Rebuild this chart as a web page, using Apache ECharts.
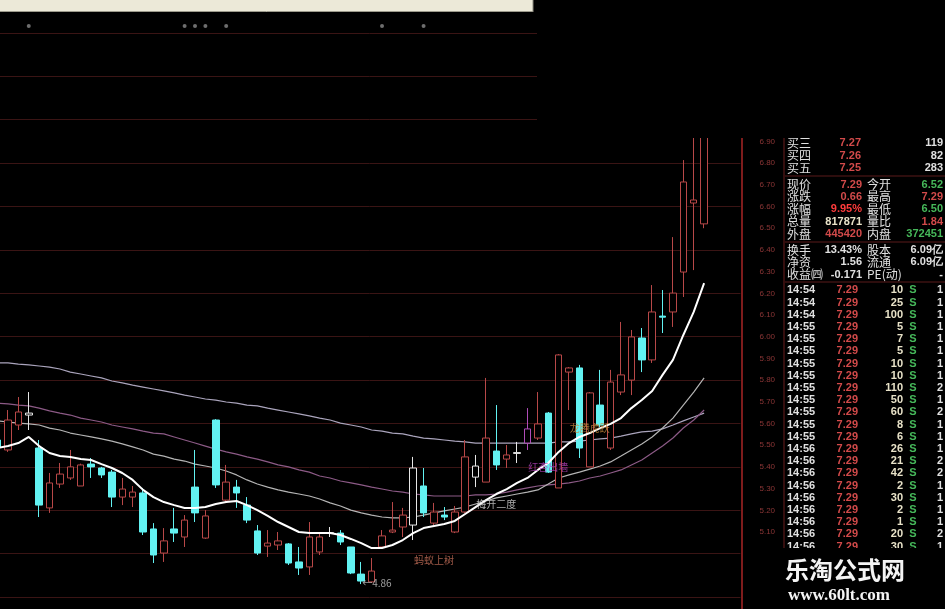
<!DOCTYPE html>
<html><head><meta charset="utf-8">
<script src="https://cdn.jsdelivr.net/npm/echarts@6/dist/echarts.min.js"></script>
<style>html,body{margin:0;padding:0;background:#000;}#c{width:945px;height:609px;}</style>
</head><body><div id="c"></div>
<script>
// ---- data ----
// [open, close, low, high]
const candles = [
 [5.524,5.492,5.48,5.53],[5.478,5.616,5.469,5.662],[5.593,5.653,5.570,5.722],[5.639,5.648,5.570,5.745],
 [5.487,5.224,5.169,5.524],[5.211,5.326,5.188,5.372],[5.321,5.367,5.303,5.418],[5.349,5.400,5.340,5.478],
 [5.312,5.409,5.312,5.415],[5.413,5.400,5.349,5.441],[5.395,5.363,5.349,5.400],[5.376,5.261,5.215,5.386],
 [5.261,5.298,5.224,5.349],[5.261,5.284,5.215,5.312],[5.280,5.100,5.086,5.303],[5.114,4.994,4.957,5.141],
 [5.003,5.059,4.962,5.118],[5.114,5.095,5.054,5.211],[5.077,5.155,5.031,5.178],[5.307,5.188,5.146,5.478],
 [5.072,5.174,5.068,5.201],[5.616,5.317,5.303,5.620],[5.247,5.330,5.238,5.409],[5.307,5.280,5.211,5.340],
 [5.224,5.155,5.141,5.261],[5.105,5.003,4.994,5.132],[5.035,5.049,4.985,5.109],[5.040,5.059,5.017,5.100],
 [5.045,4.957,4.948,5.049],[4.962,4.934,4.902,5.031],[4.939,5.077,4.902,5.146],[5.008,5.077,4.994,5.095],
 [5.097,5.093,5.077,5.123],[5.095,5.054,5.040,5.109],[5.031,4.911,4.906,5.031],[4.906,4.874,4.860,4.962],
 [4.870,4.920,4.866,4.980],[5.031,5.082,5.026,5.109],[5.100,5.109,5.095,5.238],[5.123,5.178,5.077,5.211],
 [5.132,5.395,5.063,5.446],[5.312,5.188,5.169,5.395],[5.141,5.192,5.132,5.234],[5.178,5.169,5.155,5.215],
 [5.100,5.192,5.095,5.220],[5.192,5.446,5.188,5.524],[5.353,5.404,5.307,5.455],[5.330,5.533,5.330,5.810],
 [5.473,5.409,5.386,5.685],[5.436,5.455,5.395,5.501],[5.462,5.466,5.418,5.515],[5.510,5.575,5.478,5.671],
 [5.533,5.598,5.524,5.745],[5.648,5.376,5.372,5.653],[5.303,5.916,5.303,5.920],[5.837,5.856,5.662,5.860],
 [5.856,5.487,5.441,5.870],[5.400,5.741,5.400,5.745],[5.685,5.593,5.584,5.847],[5.487,5.791,5.478,5.847],
 [5.745,5.824,5.731,6.068],[5.800,5.999,5.731,6.031],[5.994,5.893,5.837,6.040],[5.893,6.114,5.879,6.238],
 [6.095,6.090,6.017,6.215],[6.114,6.201,6.045,6.459],[6.298,6.713,6.183,6.814],[6.616,6.630,6.307,6.950],
 [6.520,7.290,6.500,7.290]
];
const maWhite = [5.487,5.496,5.510,5.538,5.496,5.464,5.450,5.446,5.436,5.432,
 5.413,5.395,5.372,5.340,5.294,5.261,5.238,5.224,5.211,5.211,
 5.215,5.229,5.238,5.243,5.224,5.201,5.174,5.146,5.123,5.100,
 5.095,5.095,5.095,5.086,5.068,5.049,5.026,5.026,5.040,5.063,
 5.095,5.118,5.128,5.137,5.151,5.183,5.215,5.247,5.275,5.298,
 5.326,5.349,5.386,5.418,5.469,5.510,5.538,5.556,5.579,5.598,
 5.625,5.671,5.708,5.750,5.824,5.893,6.008,6.114,6.247];
const maGray = [5.879,5.879,5.874,5.870,5.865,5.860,5.851,5.837,5.828,5.819,
 5.810,5.796,5.787,5.777,5.768,5.759,5.750,5.741,5.731,5.722,
 5.713,5.708,5.699,5.694,5.685,5.681,5.671,5.662,5.653,5.644,
 5.635,5.625,5.616,5.602,5.593,5.584,5.570,5.565,5.556,5.552,
 5.542,5.533,5.529,5.524,5.519,5.515,5.510,5.510,5.510,5.510,
 5.510,5.510,5.510,5.510,5.515,5.515,5.519,5.524,5.529,5.533,
 5.542,5.552,5.561,5.565,5.575,5.593,5.612,5.630,5.648];
const maPurple = [5.694,5.690,5.685,5.681,5.671,5.658,5.648,5.639,5.625,5.616,
 5.607,5.593,5.584,5.575,5.565,5.556,5.552,5.538,5.524,5.510,
 5.496,5.482,5.469,5.459,5.446,5.436,5.423,5.409,5.400,5.386,
 5.376,5.358,5.349,5.335,5.326,5.317,5.307,5.298,5.289,5.284,
 5.275,5.271,5.266,5.266,5.266,5.266,5.271,5.271,5.275,5.284,
 5.294,5.303,5.312,5.317,5.321,5.326,5.335,5.349,5.358,5.372,
 5.386,5.409,5.432,5.464,5.496,5.533,5.579,5.616,5.662];
const maSilver = [5.612,5.607,5.602,5.598,5.593,5.579,5.570,5.556,5.547,5.538,
 5.529,5.519,5.506,5.492,5.478,5.459,5.450,5.436,5.427,5.413,
 5.404,5.395,5.381,5.363,5.340,5.321,5.307,5.294,5.284,5.275,
 5.266,5.252,5.234,5.220,5.201,5.188,5.178,5.169,5.165,5.165,
 5.169,5.178,5.188,5.197,5.206,5.215,5.229,5.243,5.257,5.266,
 5.275,5.284,5.294,5.321,5.349,5.363,5.376,5.390,5.404,5.423,
 5.450,5.478,5.506,5.538,5.579,5.625,5.685,5.745,5.810];
// indicator dots of the panel above (candle indices)
const dotIdx = [3,18,19,20,22,37,41];
const dotLevel = 7.432;
// chart annotations
const noteIdx = [42,35,48,53,57];
const notePrice = [4.971,4.865,5.229,5.400,5.579];
const noteText = ['蚂蚁上树','←4.86','梅开二度','红杏出墙','龙腾虎跃'];
// quote panel
const bidLabels = ['买三','买四','买五'];
const bidPrices = ['7.27','7.26','7.25'];
const bidVols = ['119','82','283'];
const statLabelsL = ['现价','涨跌','涨幅','总量','外盘'];
const statValuesL = ['7.29','0.66','9.95%','817871','445420'];
const statLabelsR = ['今开','最高','最低','量比','内盘'];
const statValuesR = ['6.52','7.29','6.50','1.84','372451'];
const infoLabelsL = ['换手','净资','收益㈣'];
const infoValuesL = ['13.43%','1.56','-0.171'];
const infoLabelsR = ['股本','流通','PE(动)'];
const infoValuesR = ['6.09亿','6.09亿','-'];
const tradeTimes = ['14:54','14:54','14:54','14:55','14:55','14:55','14:55','14:55','14:55','14:55','14:55','14:55','14:55','14:56','14:56','14:56','14:56','14:56','14:56','14:56','14:56','14:56'];
const tradePrices = ['7.29','7.29','7.29','7.29','7.29','7.29','7.29','7.29','7.29','7.29','7.29','7.29','7.29','7.29','7.29','7.29','7.29','7.29','7.29','7.29','7.29','7.29'];
const tradeVols = ['10','25','100','5','7','5','10','10','110','50','60','8','6','26','21','42','2','30','2','1','20','30'];
const tradeSides = ['S','S','S','S','S','S','S','S','S','S','S','S','S','S','S','S','S','S','S','S','S','S'];
const tradeCounts = ['1','1','1','1','1','1','1','1','2','1','2','1','1','1','2','2','1','1','1','1','2','1'];

// ---- layout / styles ----
const RED = '#d24a4a', GREEN = '#46b85a', WHITE = '#e0e0e0', YEL = '#e8e2c8';
const statColorsL = [RED, RED, '#ff3c3c', YEL, RED];
const statColorsR = [GREEN, RED, GREEN, RED, GREEN];
const noteColor = ['#c8705a','#c8c8c8','#d8d8d8','#b040b8','#c88a3c'];
const whiteIdx = [3,32,40,46,50];
const purpleIdx = [51];

const N = candles.length, NCAT = N + 3;
const categories = [];
for (let i = 0; i < NCAT; i++) categories.push('d' + i);
const step = 10.39, gridLeft = -7.6, gridWidth = NCAT * step;
const pxPerUnit = 217, refPrice = 5.10, refY = 532;
const yOf = p => refY - (p - refPrice) * pxPerUnit;
const topB = 140;
const yMaxB = refPrice + (refY - topB) / pxPerUnit;

const candleData = candles.map((c, i) => {
  if (whiteIdx.includes(i)) return {value: c, itemStyle: {color:'#000', color0:'#000', borderColor:'#e6e6e6', borderColor0:'#e6e6e6'}};
  if (purpleIdx.includes(i)) return {value: c, itemStyle: {color:'#000', color0:'#000', borderColor:'#b04cb8', borderColor0:'#b04cb8'}};
  return c;
});

const g = [];
function txt(s, x, y, fill, size, family, weight, align) {
  g.push({type:'text', z:40, style:{text:s, x:x, y:y, fill:fill, fontSize:size, fontFamily:family, fontWeight:weight||'normal', align:align||'left', verticalAlign:'middle'}});
}
function line(x1,y1,x2,y2,stroke,w,z) {
  g.push({type:'line', z:z||45, shape:{x1,y1,x2,y2}, style:{stroke, lineWidth:w||1}});
}
function rect(x,y,w,h,fill,z) {
  g.push({type:'rect', z:z||50, shape:{x,y,width:w,height:h}, style:{fill}});
}
const CJK = 'Noto Sans CJK SC', NUM = 'Liberation Sans';
// top window bar
rect(0,0,533,12,'#ece9d8',60);
line(0,11.5,533,11.5,'#9c9a8c',1,61);
line(533,0,533,12,'#8a887c',1,61);
// cover above the quote panel
rect(537,12,408,126,'#000',50);
// panel separators
line(742,138,742,609,'#a82626',1.5,45);
line(784,138,784,609,'#6a1c1c',1,45);
[176,242,282].forEach(y => line(785,y,945,y,'#5a1a1a',1,45));
// bids
bidLabels.forEach((s,k) => {
  const y = 143 + k*12.5;
  txt(s,787,y,WHITE,12,CJK);
  txt(bidPrices[k],861,y,RED,11,NUM,'bold','right');
  txt(bidVols[k],943,y,WHITE,11,NUM,'bold','right');
});
statLabelsL.forEach((s,k) => {
  const y = 184.5 + k*12.4;
  txt(s,787,y,WHITE,12,CJK);
  txt(statValuesL[k],862,y,statColorsL[k],11,NUM,'bold','right');
  txt(statLabelsR[k],867,y,WHITE,12,CJK);
  txt(statValuesR[k],943,y,statColorsR[k],11,NUM,'bold','right');
});
infoLabelsL.forEach((s,k) => {
  const y = 250 + k*12.4;
  txt(s,787,y,WHITE,12,CJK);
  txt(infoValuesL[k],862,y,WHITE,11,NUM,'bold','right');
  txt(infoLabelsR[k],867,y,WHITE,12,CJK);
  txt(infoValuesR[k],943,y,WHITE,11,NUM,'bold','right');
});
tradeTimes.forEach((s,k) => {
  const y = 290.3 + k*12.2;
  txt(s,787,y,WHITE,11,NUM,'bold');
  txt(tradePrices[k],858,y,RED,11,NUM,'bold','right');
  txt(tradeVols[k],903,y,YEL,11,NUM,'bold','right');
  txt(tradeSides[k],913,y,GREEN,11,NUM,'bold','center');
  txt(tradeCounts[k],943,y,WHITE,11,NUM,'bold','right');
});
// watermark
rect(744,548,201,61,'#000',70);
g.push({type:'text', z:71, style:{text:'乐淘公式网', x:845, y:570, fill:'#f4f4f4', fontSize:24, fontFamily:CJK, fontWeight:'bold', align:'center', verticalAlign:'middle'}});
g.push({type:'text', z:71, style:{text:'www.60lt.com', x:839, y:596, fill:'#f4f4f4', fontSize:17, fontFamily:'Liberation Serif', fontWeight:'bold', align:'center', verticalAlign:'middle'}});

const option = {
  backgroundColor: '#000',
  animation: false,
  grid: [
    {left: gridLeft, top: yOf(7.6), width: gridWidth, height: 3.0 * pxPerUnit, show: false, containLabel: false, outerBoundsMode: 'none'},
    {left: gridLeft, top: topB, width: gridWidth, height: yOf(4.6) - topB, show: false, containLabel: false, outerBoundsMode: 'none'}
  ],
  xAxis: [
    {type:'category', gridIndex:0, data:categories, boundaryGap:true, show:false},
    {type:'category', gridIndex:1, data:categories, boundaryGap:true, show:false}
  ],
  yAxis: [
    {type:'value', gridIndex:0, min:4.6, max:7.6, interval:0.2, axisLine:{show:false}, axisTick:{show:false}, axisLabel:{show:false},
     splitLine:{show:true, lineStyle:{color:'#3a1414', width:1}}},
    {type:'value', gridIndex:1, position:'right', min:4.6, max:yMaxB, interval:0.1, axisLine:{show:false}, axisTick:{show:false},
     splitLine:{show:false},
     axisLabel:{show:true, margin:19, color:'#8c3636', fontSize:8, fontFamily:NUM,
       formatter: v => (v > 5.05 && v < 6.95) ? v.toFixed(2) : ''}}
  ],
  series: [
    {type:'scatter', xAxisIndex:0, yAxisIndex:0, symbol:'circle', symbolSize:4, silent:true,
     itemStyle:{color:'#8a8a8a'}, data: dotIdx.map(i => [i, dotLevel])},
    {type:'line', xAxisIndex:1, yAxisIndex:1, data:maGray, symbol:'none', silent:true, lineStyle:{color:'#aaa4bc', width:1.2}, z:3},
    {type:'line', xAxisIndex:1, yAxisIndex:1, data:maPurple, symbol:'none', silent:true, lineStyle:{color:'#8c5a86', width:1.2}, z:3},
    {type:'line', xAxisIndex:1, yAxisIndex:1, data:maSilver, symbol:'none', silent:true, lineStyle:{color:'#b4b4b4', width:1.2}, z:3},
    {type:'candlestick', xAxisIndex:1, yAxisIndex:1, barWidth:7, clip:true, silent:true, data:candleData,
     itemStyle:{color:'#000', color0:'#62f2f2', borderColor:'#b84848', borderColor0:'#62f2f2', borderWidth:1}, z:4},
    {type:'line', xAxisIndex:1, yAxisIndex:1, data:maWhite, symbol:'none', silent:true, lineStyle:{color:'#ffffff', width:2}, z:5},
    {type:'scatter', xAxisIndex:1, yAxisIndex:1, symbolSize:0, silent:true, z:6,
     data: noteIdx.map((ix,k) => ({value:[ix, notePrice[k]],
       label:{show:true, formatter: noteText[k], color: noteColor[k], fontSize:10, fontFamily:CJK,
              position: k === 1 ? 'right' : 'inside', distance: 1}}))}
  ],
  graphic: g
};
const chart = echarts.init(document.getElementById('c'), null, {width:945, height:609});
chart.setOption(option);
</script>
</body></html>
